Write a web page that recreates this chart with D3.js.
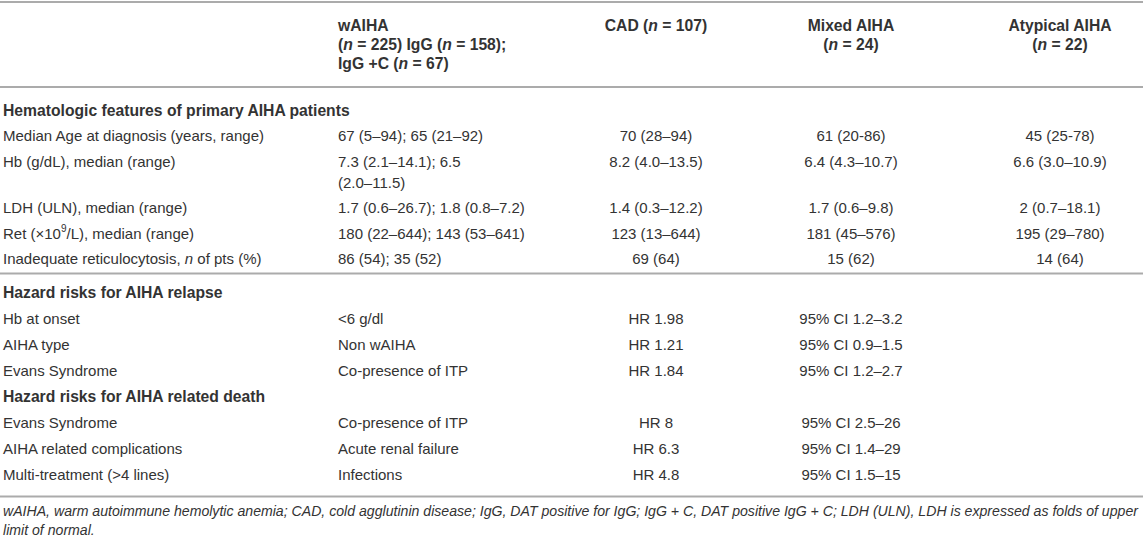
<!DOCTYPE html>
<html><head><meta charset="utf-8">
<script src="https://cdn.jsdelivr.net/npm/d3@7"></script>
<style>
body{margin:0;background:#fff;}
svg text{font-family:"Liberation Sans",Arial,Helvetica,sans-serif;fill:#333;}
</style>
</head><body>
<svg id="chart" width="1143" height="540"></svg>
<script>
// ---------- DATA (markup: *x* italic, ^x^ superscript) ----------
const headerWAIHA = ["wAIHA", "(*n* = 225) IgG (*n* = 158);", "IgG +C (*n* = 67)"];
const headerCAD = ["CAD (*n* = 107)"];
const headerMixed = ["Mixed AIHA", "(*n* = 24)"];
const headerAtypical = ["Atypical AIHA", "(*n* = 22)"];

const sectionTitles = [
  "Hematologic features of primary AIHA patients",
  "Hazard risks for AIHA relapse",
  "Hazard risks for AIHA related death"
];

const hemaLabels = [
  "Median Age at diagnosis (years, range)",
  "Hb (g/dL), median (range)",
  "LDH (ULN), median (range)",
  "Ret (×10^9^/L), median (range)",
  "Inadequate reticulocytosis, *n* of pts (%)"
];
const hemaWAIHA = [
  ["67 (5–94); 65 (21–92)"],
  ["7.3 (2.1–14.1); 6.5", "(2.0–11.5)"],
  ["1.7 (0.6–26.7); 1.8 (0.8–7.2)"],
  ["180 (22–644); 143 (53–641)"],
  ["86 (54); 35 (52)"]
];
const hemaCAD = ["70 (28–94)", "8.2 (4.0–13.5)", "1.4 (0.3–12.2)", "123 (13–644)", "69 (64)"];
const hemaMixed = ["61 (20-86)", "6.4 (4.3–10.7)", "1.7 (0.6–9.8)", "181 (45–576)", "15 (62)"];
const hemaAtypical = ["45 (25-78)", "6.6 (3.0–10.9)", "2 (0.7–18.1)", "195 (29–780)", "14 (64)"];

const relapseLabels = ["Hb at onset", "AIHA type", "Evans Syndrome"];
const relapseFactors = ["<6 g/dl", "Non wAIHA", "Co-presence of ITP"];
const relapseHR = ["HR 1.98", "HR 1.21", "HR 1.84"];
const relapseCI = ["95% CI 1.2–3.2", "95% CI 0.9–1.5", "95% CI 1.2–2.7"];

const deathLabels = ["Evans Syndrome", "AIHA related complications", "Multi-treatment (>4 lines)"];
const deathFactors = ["Co-presence of ITP", "Acute renal failure", "Infections"];
const deathHR = ["HR 8", "HR 6.3", "HR 4.8"];
const deathCI = ["95% CI 2.5–26", "95% CI 1.4–29", "95% CI 1.5–15"];

const footnoteLines = [
  "wAIHA, warm autoimmune hemolytic anemia; CAD, cold agglutinin disease; IgG, DAT positive for IgG; IgG + C, DAT positive IgG + C; LDH (ULN), LDH is expressed as folds of upper",
  "limit of normal."
];

// ---------- LAYOUT ----------
const W = 1143;
const svg = d3.select("#chart");
const FS = 15, FSB = 15.7;
const colScale = d3.scaleOrdinal().domain([0,1,2,3,4]).range([3, 338, 656, 851, 1060]);
const anchorScale = d3.scaleOrdinal().domain([0,1,2,3,4]).range(["start","start","middle","middle","middle"]);

function rich(sel, str, opts = {}) {
  const size = opts.size || (opts.bold ? FSB : FS);
  const t = sel.append("text")
    .attr("x", opts.x).attr("y", opts.y)
    .attr("dominant-baseline", "central")
    .attr("text-anchor", opts.anchor || "start")
    .style("font-size", size + "px")
    .style("font-weight", opts.bold ? "bold" : "normal")
    .style("font-style", opts.italic ? "italic" : "normal");
  const parts = str.split(/(\*[^*]+\*|\^[^^]+\^)/).filter(s => s.length);
  let pendingDy = 0;
  parts.forEach(p => {
    let ts;
    if (p.startsWith("*")) {
      ts = t.append("tspan").style("font-style", "italic").text(p.slice(1, -1));
    } else if (p.startsWith("^")) {
      ts = t.append("tspan").style("font-size", Math.round(size * 0.68) + "px").text(p.slice(1, -1));
      ts.attr("dy", -5 + pendingDy);
      pendingDy = 5;
      return;
    } else {
      ts = t.append("tspan").text(p);
    }
    if (pendingDy) { ts.attr("dy", pendingDy); pendingDy = 0; }
  });
  return t;
}

function rule(y) {
  svg.append("line").attr("x1", 0).attr("x2", W).attr("y1", y).attr("y2", y)
    .attr("stroke", "#ababab").attr("stroke-width", 2);
}

// top rule
rule(2);

// header
const headers = [[], headerWAIHA, headerCAD, headerMixed, headerAtypical];
const headerY0 = 25, headerPitch = 19;
headers.forEach((lines, ci) => {
  lines.forEach((ln, li) => {
    rich(svg, ln, { x: colScale(ci), y: headerY0 + li * headerPitch, anchor: anchorScale(ci), bold: true });
  });
});
rule(87);

const linePitch = 21;

function dataRow(y, cells, pitch) {
  let maxLines = 1;
  cells.forEach((lines, ci) => {
    if (!lines) return;
    lines.forEach((ln, li) => {
      rich(svg, ln, { x: colScale(ci), y: y + li * linePitch, anchor: anchorScale(ci) });
    });
    maxLines = Math.max(maxLines, lines.length);
  });
  return y + (maxLines - 1) * linePitch + pitch;
}

// Section 1
const p1 = 25.5;
let y = 109.5;
rich(svg, sectionTitles[0], { x: colScale(0), y: y, bold: true });
y += p1;
hemaLabels.forEach((lab, i) => {
  y = dataRow(y, [[lab], hemaWAIHA[i], [hemaCAD[i]], [hemaMixed[i]], [hemaAtypical[i]]], p1);
});
const rule2 = y - p1 + 15.5;
rule(rule2);

// Section 2
const p2 = 26;
y = rule2 + 18;
rich(svg, sectionTitles[1], { x: colScale(0), y: y, bold: true });
y += p2;
relapseLabels.forEach((lab, i) => {
  y = dataRow(y, [[lab], [relapseFactors[i]], [relapseHR[i]], [relapseCI[i]], null], p2);
});

// Section 3
rich(svg, sectionTitles[2], { x: colScale(0), y: y, bold: true });
y += p2;
deathLabels.forEach((lab, i) => {
  y = dataRow(y, [[lab], [deathFactors[i]], [deathHR[i]], [deathCI[i]], null], p2);
});
const lastRowY = y - p2;
rule(lastRowY + 23);

// Footnote
const fnY = lastRowY + 37.5;
const probe = rich(svg, footnoteLines[0], { x: 3, y: fnY, italic: true, size: 12 });
const wProbe = probe.node().getComputedTextLength();
const fnSize = 12 * 1136 / wProbe;
probe.remove();
footnoteLines.forEach((ln, i) => {
  rich(svg, ln, { x: 3, y: fnY + i * 18.5, italic: true, size: fnSize });
});
</script>
</body></html>
